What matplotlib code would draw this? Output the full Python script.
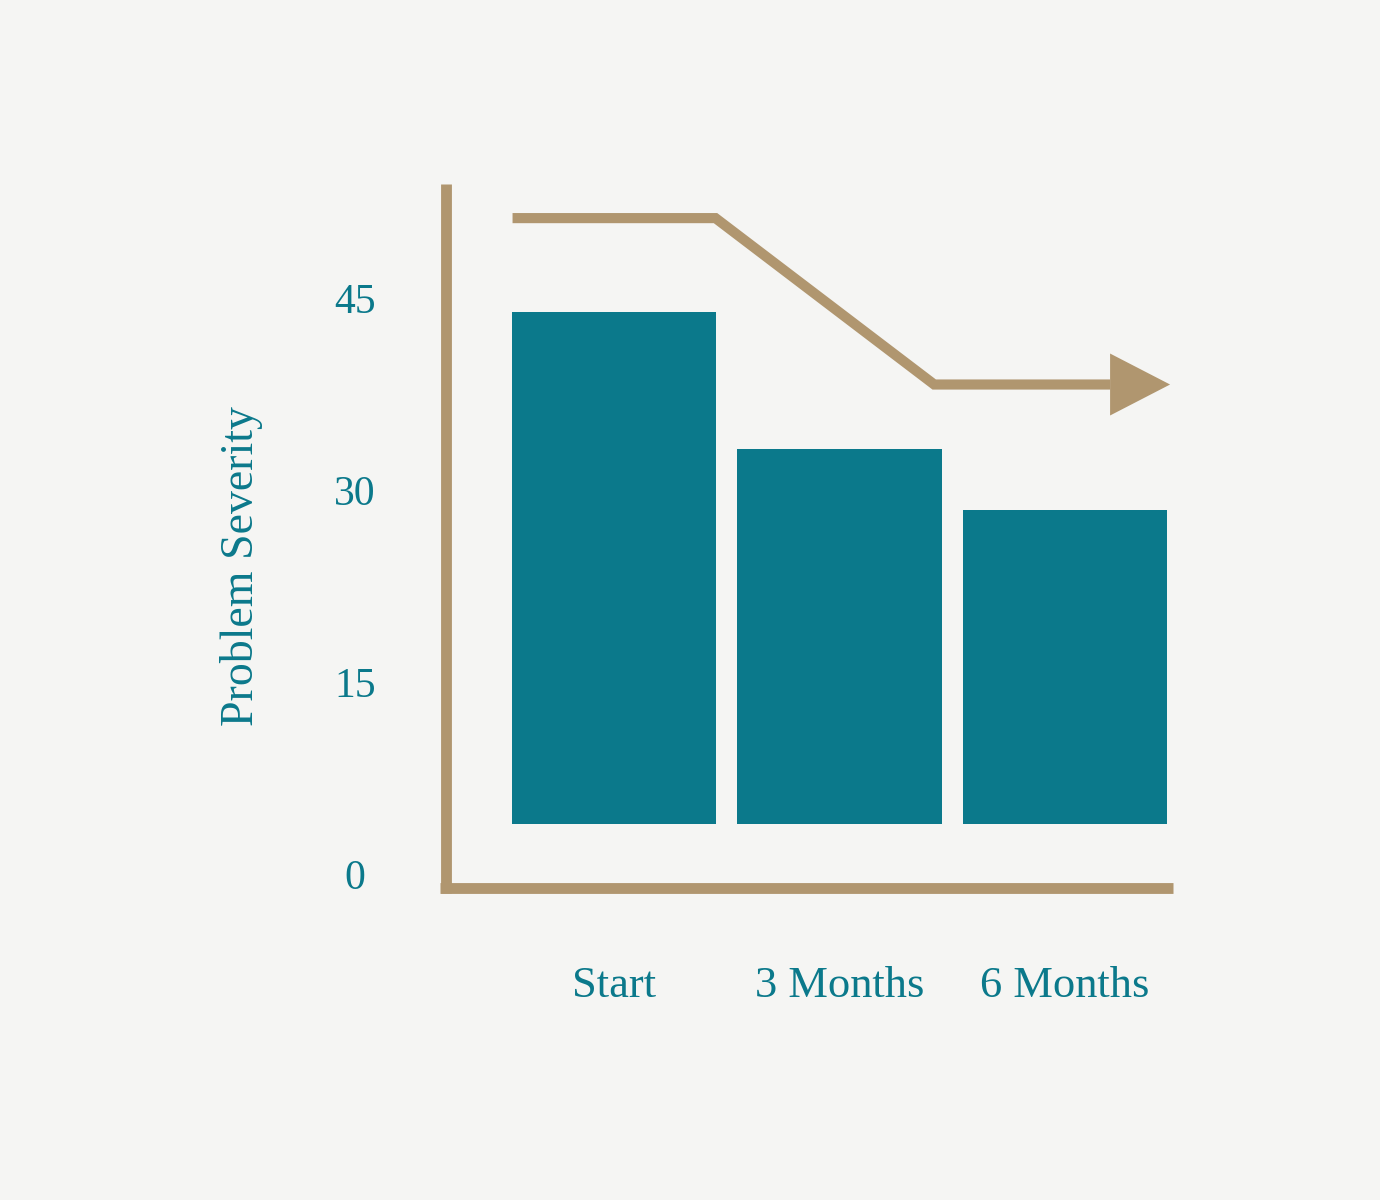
import numpy as np
import matplotlib.pyplot as plt
from matplotlib.patches import Polygon

# data
categories = ["Start", "3 Months", "6 Months"]
severity = [44.1, 33.4, 28.6]
bar_base = 4.1
y_ticks = [0, 15, 30, 45]

# trend arrow (drawn above the bars)
trend_x = [-0.45, 0.45, 1.42, 2.2]
trend_y = [51.4, 51.4, 38.4, 38.4]
arrow_tip = 2.466

teal = "#0b798b"
tan = "#b0966f"
bg = "#f5f5f3"
font = "Liberation Serif"

fig = plt.figure(figsize=(13.8, 12), dpi=100, facecolor=bg)
ax = fig.add_axes([0, 0, 1, 1])
ax.set_facecolor(bg)
ax.set_xlim(-2.723, 3.397)
ax.set_ylim(-25.31, 68.44)
ax.axis("off")

x = np.arange(len(categories))
heights = [v - bar_base for v in severity]
ax.bar(x, heights, bottom=bar_base, width=0.905, color=teal, zorder=2)

# axis lines
ax.plot([-0.747, -0.747], [54.06, -1.33], color=tan, lw=7.8,
        solid_capstyle="butt", zorder=3)
ax.plot([-0.772, 2.479], [-0.94, -0.94], color=tan, lw=7.8,
        solid_capstyle="butt", zorder=3)

# trend line + arrow head
ax.plot(trend_x, trend_y, color=tan, lw=7.3, solid_capstyle="butt",
        solid_joinstyle="miter", zorder=3)
head = Polygon([[trend_x[-1], trend_y[-1] + 2.42],
                [arrow_tip, trend_y[-1]],
                [trend_x[-1], trend_y[-1] - 2.42]],
               closed=True, color=tan, lw=0, zorder=3)
ax.add_patch(head)

# tick labels
for t in y_ticks:
    ax.text(-1.15, t - 1.05, str(t), ha="center", va="baseline",
            color=teal, fontsize=30, family=font)

for xi, lab in zip(x, categories):
    ax.text(xi, -9.45, lab, ha="center", va="baseline",
            color=teal, fontsize=32, family=font)

ax.text(-1.653, 24.2, "Problem Severity", rotation=90, ha="center",
        va="center", color=teal, fontsize=33, family=font)

fig.savefig("out.png", dpi=100, facecolor=bg)
